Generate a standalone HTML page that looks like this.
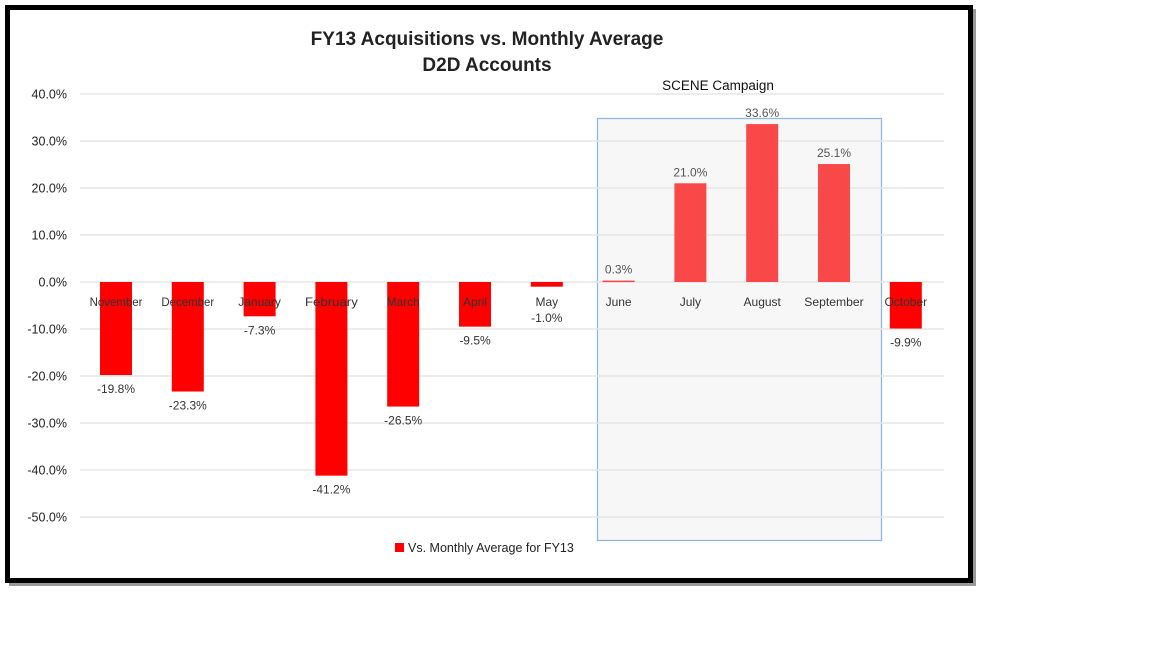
<!DOCTYPE html>
<html><head><meta charset="utf-8"><style>
body{margin:0;background:#fff;width:1152px;height:648px;overflow:hidden;font-family:"Liberation Sans",sans-serif}
</style></head><body>
<svg width="1152" height="648" xmlns="http://www.w3.org/2000/svg">
<rect x="9" y="9" width="967" height="577" fill="#999"/>
<rect x="7.5" y="7.5" width="963" height="573" fill="#fff" stroke="#000" stroke-width="5"/>
<rect x="597.5" y="118.5" width="284" height="422" fill="#f7f7f7" stroke="#8fb8dc" stroke-width="1.3"/>
<g id="grid"></g>
<g id="bars"></g>
<g id="labels" font-size="12" fill="#333"></g>
<text x="487" y="45" text-anchor="middle" font-size="19" font-weight="bold" fill="#222">FY13 Acquisitions vs. Monthly Average</text>
<text x="487" y="71" text-anchor="middle" font-size="19" font-weight="bold" fill="#222">D2D Accounts</text>
<text x="718" y="90" text-anchor="middle" font-size="13.5" fill="#111">SCENE Campaign</text>
<rect x="395" y="543" width="9" height="9" fill="#f00"/>
<text x="408" y="552" font-size="12.5" fill="#222">Vs. Monthly Average for FY13</text>
</svg>
<script>
const categories=["November","December","January","February","March","April","May","June","July","August","September","October"];
const values=[-19.8,-23.3,-7.3,-41.2,-26.5,-9.5,-1.0,0.3,21.0,33.6,25.1,-9.9];
const valueLabels=["-19.8%","-23.3%","-7.3%","-41.2%","-26.5%","-9.5%","-1.0%","0.3%","21.0%","33.6%","25.1%","-9.9%"];
const ticks=[40,30,20,10,0,-10,-20,-30,-40,-50];
const tickLabels=["40.0%","30.0%","20.0%","10.0%","0.0%","-10.0%","-20.0%","-30.0%","-40.0%","-50.0%"];
const campaign=["June","July","August","September"];
const NS="http://www.w3.org/2000/svg";
const y=v=>282-v*4.7;
const x=i=>116+i*71.8;
function mk(t,a,p){const e=document.createElementNS(NS,t);for(const k in a)e.setAttribute(k,a[k]);p.appendChild(e);return e;}
const grid=document.getElementById('grid'),bars=document.getElementById('bars'),labels=document.getElementById('labels');
ticks.forEach((t,i)=>{
 const l=mk('line',{x1:80,x2:944,y1:y(t),y2:y(t),stroke:'#e6e6e6','stroke-width':1.5},grid);
 
 
 const tx=mk('text',{x:67,y:y(t)+4.5,'text-anchor':'end','font-size':12.5,fill:'#222'},grid);
 tx.textContent=tickLabels[i];
 
 
});
values.forEach((v,i)=>{
 const inC=campaign.includes(categories[i]);
 const top=Math.min(y(v),y(0)),h=Math.max(Math.abs(y(v)-y(0)),1.5);
 const r=mk('rect',{x:x(i)-16,y:top,width:32,height:h,fill:inC?'#f94848':'#ff0000'},bars);
 
 
 const c=mk('text',{x:x(i),y:306,'text-anchor':'middle',textLength:categories[i].length>7?categories[i].length*6.6:null,lengthAdjust:'spacingAndGlyphs'},labels);
 if(categories[i].length<=7)c.removeAttribute('textLength');
 c.textContent=categories[i];
 
 
 const vy=v>=0?y(v)-7:Math.max(y(v)+18,322);
 const vl=mk('text',{x:x(i),y:vy,'text-anchor':'middle',fill:inC?'#555':'#333'},labels);
 vl.textContent=valueLabels[i];
 
 
});
</script>
</body></html>
